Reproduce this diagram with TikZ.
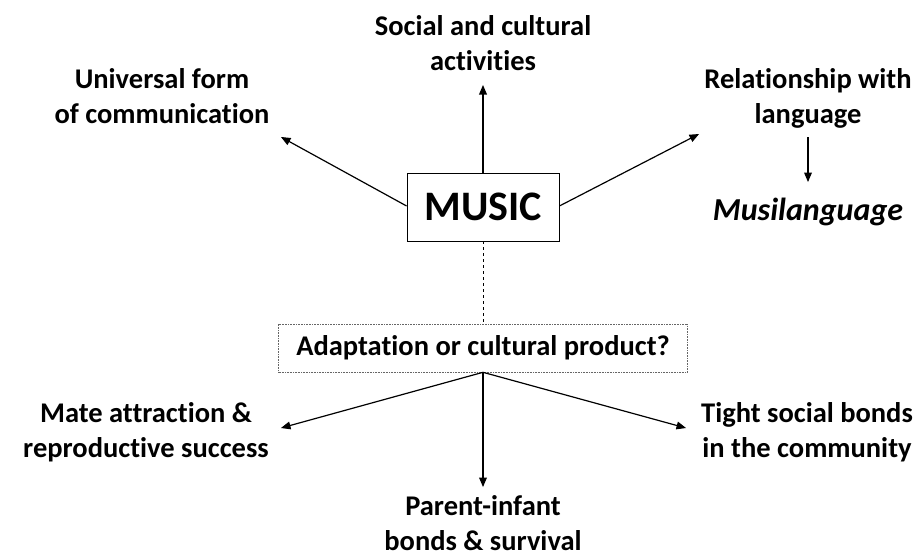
\documentclass[tikz,border=0pt]{standalone}
\usepackage{fontspec}
\setmainfont{Carlito}[Ligatures=NoCommon]
\usetikzlibrary{arrows}
\tikzstyle{topic} = [align=center, font=\fontsize{28.5}{35}\selectfont\bfseries,
inner sep=0pt, anchor=base]
\tikzstyle{mainbox} = [rectangle, draw=black, line width=0.8pt, minimum width=152pt,
minimum height=68pt, font=\fontsize{42}{42}\selectfont\bfseries]
\tikzstyle{question} = [rectangle, draw=black!60, densely dotted, line width=0.6pt,
minimum width=409pt, minimum height=48pt, font=\fontsize{28.5}{28.5}\selectfont\bfseries]
\tikzstyle{link} = [->, line width=1.2pt]
\tikzset{>={triangle 45}}

\begin{document}
\begin{tikzpicture}[x=1pt, y=-1pt]
  \useasboundingbox (0,0) rectangle (921,558);

  % the centre and the question under it
  \node[mainbox] (music) at (483,207) {MUSIC};
  \node[question] (q) at (483,348) {Adaptation or cultural product?};
  \draw[dashed, line width=0.6pt] (music.south) -- (q.north);

  % what music is used for (base = last line)
  \node[topic] (social) at (483,70) {Social and cultural\\activities};
  \node[topic] (univ) at (162,123) {Universal form\\of communication};
  \node[topic] (lang) at (808,123) {Relationship with\\language};
  \node[topic, font=\fontsize{32}{32}\selectfont\bfseries\itshape] (musil) at (808,220) {Musilanguage};

  \coordinate (univtip) at (281,137);
  \coordinate (langtip) at (699,134);
  \draw[link] (music.north) -- (social.south |- 0,85);
  \draw[link] (music.west |- 0,206) -- (univtip);
  \draw[link] (music.east |- 0,206) -- (langtip);
  \draw[link] (lang.south |- 0,137) -- (musil.north |- 0,182);

  % possible adaptive roles
  \node[topic] (mate) at (146,457) {Mate attraction \&\\reproductive success};
  \node[topic] (bonds) at (807,457) {Tight social bonds\\in the community};
  \node[topic] (infant) at (483,550) {Parent-infant\\bonds \& survival};

  \coordinate (matetip) at (281,428);
  \coordinate (bondstip) at (686,428);
  \draw[link] (q.south) -- (matetip);
  \draw[link] (q.south) -- (infant.north |- 0,487);
  \draw[link] (q.south) -- (bondstip);
\end{tikzpicture}
\end{document}
